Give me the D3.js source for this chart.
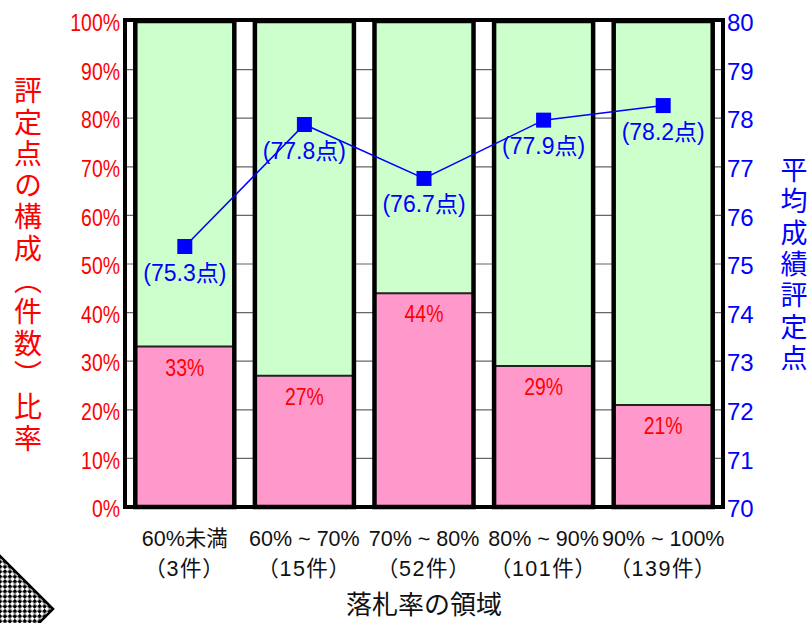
<!DOCTYPE html>
<html lang="ja">
<head>
<meta charset="utf-8">
<script src="https://cdn.jsdelivr.net/npm/d3@7"></script>
<style>
  html, body { margin: 0; padding: 0; background: #fff; }
  svg { display: block; font-family: "Liberation Sans", Arial, "Noto Sans CJK JP", sans-serif; }
</style>
</head>
<body>
<svg id="chart" width="812" height="623"></svg>
<script>
// 落札率の領域ごとのデータ
const categories = ['60%未満', '60% ~ 70%', '70% ~ 80%', '80% ~ 90%', '90% ~ 100%'];
const counts = ['（3件）', '（15件）', '（52件）', '（101件）', '（139件）'];
const lowShare = [33, 27, 44, 29, 21];             // ピンク部分（%）
const avgScore = [75.36, 77.87, 76.76, 77.96, 78.26]; // 平均成績評定点
const scoreLabels = ['(75.3点)', '(77.8点)', '(76.7点)', '(77.9点)', '(78.2点)'];
const shareTicks = d3.range(0, 101, 10);
const scoreTicks = d3.range(70, 81, 1);

const svg = d3.select('#chart');
const plot = { left: 125, right: 723, top: 21, bottom: 507 };
const RED = '#ff0000';
const BLUE = '#0000ff';
const PINK = '#ff99cc';
const GREEN = '#ccffcc';

const x = d3.scaleBand()
  .domain(categories)
  .range([plot.left, plot.right])
  .paddingInner(0.172)
  .paddingOuter(0.086);

const yL = d3.scaleLinear().domain([0, 100]).range([plot.bottom, plot.top]);
const yR = d3.scaleLinear().domain([70, 80]).range([plot.bottom, plot.top]);

const rows = categories.map((c, i) => ({
  cat: c, count: counts[i], low: lowShare[i], score: avgScore[i], label: scoreLabels[i]
}));

// 左下の飾り（市松模様）
const defs = svg.append('defs');
const pat = defs.append('pattern')
  .attr('id', 'checker')
  .attr('patternUnits', 'userSpaceOnUse')
  .attr('width', 7).attr('height', 7)
  .attr('patternTransform', 'rotate(45)');
pat.append('rect').attr('width', 7).attr('height', 7).attr('fill', '#fff');
pat.append('rect').attr('width', 3.5).attr('height', 3.5).attr('fill', '#000');
pat.append('rect').attr('x', 3.5).attr('y', 3.5).attr('width', 3.5).attr('height', 3.5).attr('fill', '#000');

const deco = d3.path();
deco.moveTo(53, 609);
deco.lineTo(-59, 497);
deco.lineTo(-171, 609);
deco.lineTo(-59, 721);
deco.closePath();
svg.append('path')
  .attr('d', deco.toString())
  .attr('fill', 'url(#checker)')
  .attr('stroke', '#000')
  .attr('stroke-width', 2.5);

// グリッド線
svg.append('g')
  .selectAll('line')
  .data(shareTicks.filter(d => d > 0 && d < 100))
  .enter()
  .append('line')
  .attr('x1', plot.left).attr('x2', plot.right)
  .attr('y1', d => yL(d)).attr('y2', d => yL(d))
  .attr('stroke', '#666')
  .attr('stroke-width', 1.2);

// 積み上げ棒
const bars = svg.append('g')
  .selectAll('g')
  .data(rows)
  .enter()
  .append('g');

bars.append('rect')
  .attr('x', d => x(d.cat))
  .attr('width', x.bandwidth())
  .attr('y', plot.top)
  .attr('height', d => yL(d.low) - plot.top)
  .attr('fill', GREEN);

bars.append('rect')
  .attr('x', d => x(d.cat))
  .attr('width', x.bandwidth())
  .attr('y', d => yL(d.low))
  .attr('height', d => plot.bottom - yL(d.low))
  .attr('fill', PINK);

bars.append('line')
  .attr('x1', d => x(d.cat)).attr('x2', d => x(d.cat) + x.bandwidth())
  .attr('y1', d => yL(d.low)).attr('y2', d => yL(d.low))
  .attr('stroke', '#222')
  .attr('stroke-width', 2);

bars.append('rect')
  .attr('x', d => x(d.cat))
  .attr('width', x.bandwidth())
  .attr('y', plot.top)
  .attr('height', plot.bottom - plot.top)
  .attr('fill', 'none')
  .attr('stroke', '#000')
  .attr('stroke-width', 4.5);

bars.append('text')
  .attr('transform', d => `translate(${x(d.cat) + x.bandwidth() / 2},${yL(d.low) + 29}) scale(0.81,1)`)
  .attr('text-anchor', 'middle')
  .attr('font-size', '24px')
  .attr('fill', RED)
  .text(d => d.low + '%');

// 枠線
svg.append('rect')
  .attr('x', plot.left).attr('y', plot.top - 1)
  .attr('width', plot.right - plot.left)
  .attr('height', plot.bottom - plot.top + 1)
  .attr('fill', 'none')
  .attr('stroke', '#000')
  .attr('stroke-width', 4);

// 左軸（比率）
const axL = svg.append('g')
  .attr('transform', `translate(${plot.left},0)`)
  .call(d3.axisLeft(yL).tickValues(shareTicks).tickFormat(d => d + '%').tickSize(0).tickPadding(6.2));
axL.select('.domain').remove();
axL.selectAll('text')
  .attr('font-family', null)
  .attr('font-size', '24px')
  .attr('fill', RED)
  .attr('dy', '0.4em')
  .attr('transform', 'scale(0.81,1)');

// 右軸（平均点）
const axR = svg.append('g')
  .attr('transform', `translate(${plot.right},0)`)
  .call(d3.axisRight(yR).tickValues(scoreTicks).tickSize(0).tickPadding(4));
axR.select('.domain').remove();
axR.selectAll('text')
  .attr('font-family', null)
  .attr('font-size', '24px')
  .attr('fill', BLUE)
  .attr('dy', '0.4em');

// 平均点の折れ線
const cx = d => x(d.cat) + x.bandwidth() / 2;
svg.append('path')
  .datum(rows)
  .attr('d', d3.line().x(cx).y(d => yR(d.score)))
  .attr('fill', 'none')
  .attr('stroke', BLUE)
  .attr('stroke-width', 1.5);

const mk = 15;
svg.append('g')
  .selectAll('rect')
  .data(rows)
  .enter()
  .append('rect')
  .attr('x', d => cx(d) - mk / 2)
  .attr('y', d => yR(d.score) - mk / 2)
  .attr('width', mk).attr('height', mk)
  .attr('fill', BLUE);

svg.append('g')
  .selectAll('text')
  .data(rows)
  .enter()
  .append('text')
  .attr('x', cx)
  .attr('y', d => yR(d.score) + 34)
  .attr('text-anchor', 'middle')
  .attr('font-size', '23px')
  .attr('fill', BLUE)
  .text(d => d.label);

// X軸ラベル
const xl = svg.append('g')
  .selectAll('g')
  .data(rows)
  .enter()
  .append('g')
  .attr('transform', d => `translate(${cx(d)},0)`);

xl.append('text')
  .attr('y', 546)
  .attr('text-anchor', 'middle')
  .attr('font-size', '21.5px')
  .attr('fill', '#111')
  .text(d => d.cat);

xl.append('text')
  .attr('y', 576)
  .attr('text-anchor', 'middle')
  .attr('font-size', '21.5px')
  .attr('fill', '#111')
  .style('font-feature-settings', '"palt"')
  .style('letter-spacing', '1.5px')
  .text(d => d.count);

// 軸タイトル
svg.append('text')
  .attr('x', (plot.left + plot.right) / 2)
  .attr('y', 614)
  .attr('text-anchor', 'middle')
  .attr('font-size', '26px')
  .attr('font-family', '"Noto Sans CJK JP", sans-serif')
  .attr('fill', '#111')
  .text('落札率の領域');

svg.append('text')
  .attr('x', 28)
  .attr('y', 266)
  .attr('text-anchor', 'middle')
  .attr('font-size', '28px')
  .attr('font-family', '"Noto Sans CJK JP", sans-serif')
  .attr('fill', RED)
  .style('writing-mode', 'vertical-rl')
  .style('letter-spacing', '3.6px')
  .text('評定点の構成（件数）比率');

svg.append('text')
  .attr('x', 794)
  .attr('y', 266)
  .attr('text-anchor', 'middle')
  .attr('font-size', '27px')
  .attr('font-family', '"Noto Sans CJK JP", sans-serif')
  .attr('fill', BLUE)
  .style('writing-mode', 'vertical-rl')
  .style('letter-spacing', '4.3px')
  .text('平均成績評定点');
</script>
</body>
</html>
